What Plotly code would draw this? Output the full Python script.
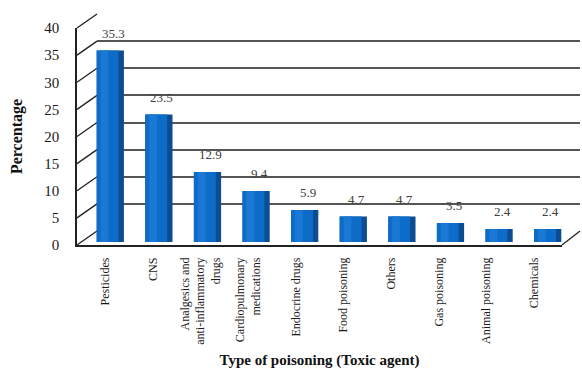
import plotly.graph_objects as go

categories = ["Pesticides", "CNS", "Analgesics and<br>anti-inflammatory<br>drugs",
              "Cardiopulmonary<br>medications", "Endocrine drugs", "Food poisoning",
              "Others", "Gas poisoning", "Animal poisoning", "Chemicals"]
percentages = [35.3, 23.5, 12.9, 9.4, 5.9, 4.7, 4.7, 3.5, 2.4, 2.4]
y_ticks = [0, 5, 10, 15, 20, 25, 30, 35, 40]

W, H = 582, 369
FONT = "Liberation Serif"

def px_x(a, b):
    return [a / W, b / W]

def px_y(bottom, top):
    return [(H - bottom) / H, (H - top) / H]

back_x, back_y = px_x(97, 580), px_y(231, 14)
front_x, front_y = px_x(77, 562), px_y(245, 28)
bar_x, bar_y = px_x(86, 572), px_y(242, 25)

fig = go.Figure()
idx = list(range(len(categories)))

# back wall (grid) subplot: x / y
fig.add_trace(go.Scatter(x=idx, y=percentages, xaxis="x", yaxis="y",
                         mode="markers", marker=dict(opacity=0), hoverinfo="skip",
                         showlegend=False))
# front axes subplot: x2 / y2
fig.add_trace(go.Scatter(x=categories, y=percentages, xaxis="x2", yaxis="y2",
                         mode="markers", marker=dict(opacity=0), hoverinfo="skip",
                         showlegend=False))
# bars subplot: x3 / y3 -- dark side, front face, highlight
fig.add_trace(go.Bar(x=idx, y=percentages, xaxis="x3", yaxis="y3", width=0.56,
                     marker=dict(color="#0b4c92", line=dict(width=0)), showlegend=False))
fig.add_trace(go.Bar(x=idx, y=percentages, xaxis="x3", yaxis="y3", width=0.45,
                     offset=-0.28,
                     marker=dict(color="#0e6cc9", line=dict(width=0)), showlegend=False))
fig.add_trace(go.Bar(x=idx, y=percentages, xaxis="x3", yaxis="y3", width=0.16,
                     offset=-0.2,
                     marker=dict(color="#1979d5", line=dict(width=0)), showlegend=False))

fig.update_layout(barmode="overlay")

# value labels
for i, v in zip(idx, percentages):
    fig.add_annotation(x=i, y=v, xref="x3", yref="y3", text=f"{v}",
                       showarrow=False, yanchor="bottom", yshift=8, xshift=3,
                       font=dict(family=FONT, size=13, color="#404040"))

# perspective connectors between front axis and back wall
span_f = front_y[1] - front_y[0]
span_b = back_y[1] - back_y[0]
shapes = []
for t in y_ticks:
    yf = front_y[0] + t / 40 * span_f
    yb = back_y[0] + t / 40 * span_b
    shapes.append(dict(type="line", xref="paper", yref="paper",
                       x0=front_x[0], y0=yf, x1=back_x[0], y1=yb,
                       line=dict(color="#222222", width=1.3), layer="below"))
shapes.append(dict(type="line", xref="paper", yref="paper",
                   x0=front_x[1], y0=front_y[0], x1=back_x[1], y1=back_y[0],
                   line=dict(color="#222222", width=1.3), layer="below"))
fig.update_layout(shapes=shapes)

fig.update_layout(
    width=W, height=H,
    margin=dict(l=0, r=0, t=0, b=0),
    paper_bgcolor="white", plot_bgcolor="rgba(0,0,0,0)",
    font=dict(family=FONT, color="#1a1a1a"),
    xaxis=dict(domain=back_x, range=[-0.5, 9.5], visible=False, anchor="y",
               automargin=False),
    yaxis=dict(domain=back_y, range=[0, 40], tickvals=y_ticks, showgrid=True,
               gridcolor="#555555", gridwidth=1.6, showticklabels=False,
               zeroline=False, anchor="x", automargin=False),
    xaxis2=dict(domain=front_x, anchor="y2", showline=True, linecolor="#222222",
                linewidth=1.5, tickangle=-90, ticks="", showgrid=False,
                automargin=False, ticklabelstandoff=6,
                tickfont=dict(family=FONT, size=12, color="#1a1a1a"),
                title=dict(text="<b>Type of poisoning (Toxic agent)</b>",
                           font=dict(family=FONT, size=15, color="#111111"),
                           standoff=12)),
    yaxis2=dict(domain=front_y, range=[0, 40], anchor="x2", tickvals=y_ticks,
                showline=True, linecolor="#222222", linewidth=1.5, showgrid=False,
                zeroline=False, ticks="", ticklabelstandoff=13, automargin=False,
                tickfont=dict(family=FONT, size=15, color="#1a1a1a"),
                title=dict(text="<b>Percentage</b>",
                           font=dict(family=FONT, size=16, color="#111111"),
                           standoff=18)),
    xaxis3=dict(domain=bar_x, range=[-0.5, 9.5], visible=False, anchor="y3",
                automargin=False),
    yaxis3=dict(domain=bar_y, range=[0, 40], visible=False, anchor="x3",
                automargin=False),
)

fig.write_html("out.html")
